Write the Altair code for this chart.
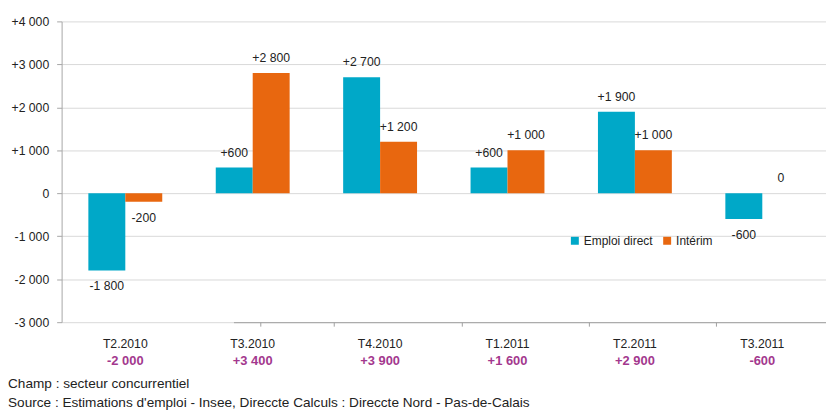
import altair as alt
import pandas as pd

categories = ["T2.2010", "T3.2010", "T4.2010", "T1.2011", "T2.2011", "T3.2011"]
emploi_direct = [-1800, 600, 2700, 600, 1900, -600]
interim = [-200, 2800, 1200, 1000, 1000, 0]
totals = [-2000, 3400, 3900, 1600, 2900, -600]
series = ["Emploi direct", "Intérim"]
colors = ["#00A8C8", "#E8670F"]
y_ticks = [-3000, -2000, -1000, 0, 1000, 2000, 3000, 4000]


def fmt(v):
    s = f"{abs(v):,}".replace(",", " ")
    if v > 0:
        return "+" + s
    if v < 0:
        return "-" + s
    return s


rows = []
for c, a, b in zip(categories, emploi_direct, interim):
    rows.append({"cat": c, "serie": series[0], "value": a, "label": fmt(a)})
    rows.append({"cat": c, "serie": series[1], "value": b, "label": fmt(b)})
df = pd.DataFrame(rows)

FONT = "Liberation Sans"
TXT = "#222222"

# totals label expression built from the lists
tot_expr = "''"
for c, t in zip(categories, totals):
    tot_expr = f"datum.value === '{c}' ? '{fmt(t)}' : ({tot_expr})"

xscale = alt.Scale(domain=categories, paddingInner=0.42, paddingOuter=0.21)
xoff = alt.XOffset("serie:N", sort=series, scale=alt.Scale(domain=series, paddingInner=0, paddingOuter=0))

yaxis = alt.Axis(
    values=y_ticks,
    labelExpr="(datum.value > 0 ? '+' : (datum.value < 0 ? '-' : '')) + replace(format(abs(datum.value), ','), ',', ' ')",
    grid=True, gridColor="#D9D9D9", gridWidth=1,
    domain=True, domainColor="#A6A6A6", ticks=True, tickColor="#A6A6A6", tickSize=5,
    labelFont=FONT, labelFontSize=12.3, labelColor=TXT, labelPadding=8, title=None,
)
yenc = alt.Y("value:Q", scale=alt.Scale(domain=[-3000, 4000], nice=False), axis=yaxis)

bars = alt.Chart(df).mark_bar().encode(
    x=alt.X("cat:N", sort=categories, scale=xscale, axis=alt.Axis(
        orient="bottom", title=None, domain=False, ticks=False, labelAngle=0,
        labelFont=FONT, labelFontSize=12.3, labelColor=TXT, labelPadding=15)),
    xOffset=xoff,
    y=yenc,
    color=alt.Color("serie:N", sort=series, scale=alt.Scale(domain=series, range=colors),
                    legend=alt.Legend(orient="none", legendX=511, legendY=215, direction="horizontal",
                                      title=None, symbolType="square", symbolSize=64, symbolStrokeWidth=0,
                                      labelFont=FONT, labelFontSize=12, labelColor=TXT,
                                      labelOffset=3, columnPadding=8)),
)

pos = alt.Chart(df).transform_filter("datum.value >= 0").mark_text(
    baseline="bottom", dy=-8, font=FONT, fontSize=12.3, color=TXT
).encode(
    x=alt.X("cat:N", sort=categories, scale=xscale, axis=alt.Axis(
        orient="bottom", title=None, domain=False, ticks=False, labelAngle=0,
        labelExpr=tot_expr, labelFont=FONT, labelFontSize=13, labelFontWeight="bold",
        labelColor="#A3388E", labelPadding=33)),
    xOffset=xoff,
    y=yenc,
    text="label:N",
)

neg = alt.Chart(df).transform_filter("datum.value < 0").mark_text(
    baseline="top", dy=10, font=FONT, fontSize=12.3, color=TXT
).encode(
    x=alt.X("cat:N", sort=categories, scale=xscale, axis=alt.Axis(
        orient="bottom", title=None, position=173.14, domain=True, domainColor="#A0A0A0",
        ticks=True, tickBand="extent", tickSize=4, tickColor="#A0A0A0", labels=False, grid=False)),
    xOffset=xoff,
    y=yenc,
    text="label:N",
)

chart = alt.layer(bars, pos, neg).resolve_axis(x="independent").properties(
    width=770, height=303,
    autosize=alt.AutoSizeParams(type="none"),
    padding={"left": 54, "top": 12, "right": 0, "bottom": 92},
    title=alt.TitleParams(
        text=["Champ : secteur concurrentiel",
              "Source : Estimations d'emploi - Insee, Direccte  Calculs : Direccte Nord - Pas-de-Calais"],
        orient="bottom", anchor="start", frame="bounds", font=FONT, fontSize=13.7,
        fontWeight="normal", color=TXT, lineHeight=19, offset=9, dx=-3,
    ),
).configure_view(stroke=None)

chart.save("out.html", embed_options={"renderer": "svg", "actions": False})
